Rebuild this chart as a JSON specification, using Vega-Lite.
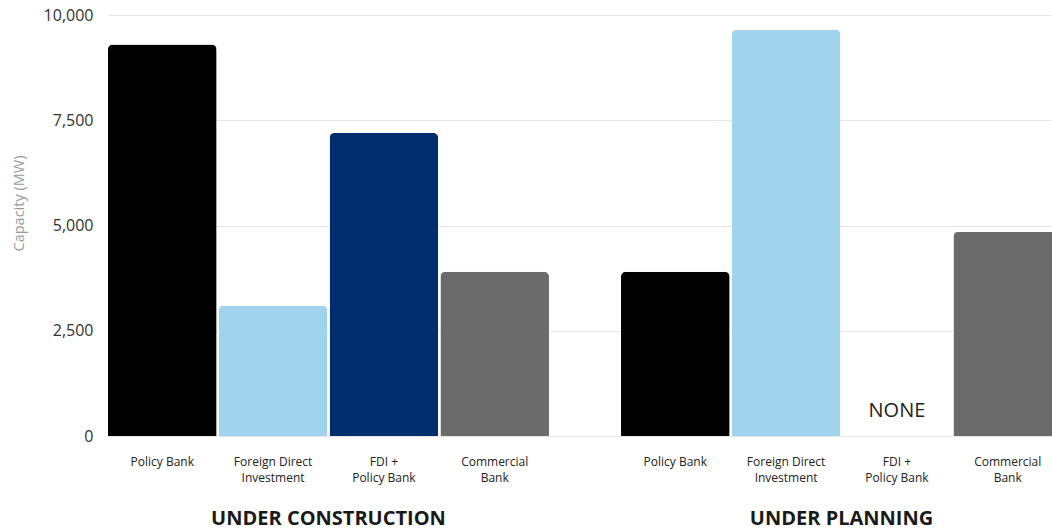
{
  "$schema": "https://vega.github.io/schema/vega-lite/v6.json",
  "width": 944,
  "height": 421,
  "autosize": "none",
  "padding": {"left": 108, "top": 15, "right": 0, "bottom": 95},
  "config": {"view": {"stroke": null}, "font": "Open Sans"},
  "data": {
    "values": [
      {"stage": "UNDER CONSTRUCTION", "type": "Policy Bank", "label": "Policy Bank", "value": 9300, "note": ""},
      {"stage": "UNDER CONSTRUCTION", "type": "Foreign Direct Investment", "label": "Foreign Direct\nInvestment", "value": 3100, "note": ""},
      {"stage": "UNDER CONSTRUCTION", "type": "FDI + Policy Bank", "label": "FDI +\nPolicy Bank", "value": 7200, "note": ""},
      {"stage": "UNDER CONSTRUCTION", "type": "Commercial Bank", "label": "Commercial\nBank", "value": 3900, "note": ""},
      {"stage": "UNDER PLANNING", "type": "Policy Bank", "label": "Policy Bank", "value": 3900, "note": ""},
      {"stage": "UNDER PLANNING", "type": "Foreign Direct Investment", "label": "Foreign Direct\nInvestment", "value": 9650, "note": ""},
      {"stage": "UNDER PLANNING", "type": "FDI + Policy Bank", "label": "FDI +\nPolicy Bank", "value": 0, "note": "NONE"},
      {"stage": "UNDER PLANNING", "type": "Commercial Bank", "label": "Commercial\nBank", "value": 4850, "note": ""}
    ]
  },
  "encoding": {
    "x": {
      "field": "stage",
      "type": "nominal",
      "sort": ["UNDER CONSTRUCTION", "UNDER PLANNING"],
      "scale": {"range": [0, 954], "paddingInner": 0.1404, "paddingOuter": 0},
      "axis": {
        "title": null,
        "domain": false,
        "ticks": false,
        "labelAngle": 0,
        "labelFontSize": 20,
        "labelFontWeight": "bold",
        "labelColor": "#1a1a1a",
        "labelPadding": 72,
        "labelLimit": 0,
        "labelFont": "Open Sans"
      }
    },
    "xOffset": {
      "field": "type",
      "type": "nominal",
      "sort": ["Policy Bank", "Foreign Direct Investment", "FDI + Policy Bank", "Commercial Bank"],
      "scale": {"paddingInner": 0.02, "paddingOuter": 0}
    }
  },
  "layer": [
    {
      "mark": {"type": "bar", "cornerRadiusTopLeft": 5, "cornerRadiusTopRight": 5},
      "encoding": {
        "y": {
          "field": "value",
          "type": "quantitative",
          "scale": {"domain": [0, 10000], "nice": false},
          "axis": {
            "title": "Capacity (MW)",
            "titleColor": "#9a9a9a",
            "titleFontSize": 14.5,
            "titleFontWeight": "normal",
            "titleX": -89,
            "titleY": 188,
            "titleAngle": -90,
            "titleBaseline": "middle",
            "titleAlign": "center",
            "values": [0, 2500, 5000, 7500, 10000],
            "format": ",.0f",
            "labelFontSize": 16,
            "labelColor": "#333333",
            "labelPadding": 15,
            "ticks": false,
            "domain": false,
            "gridColor": "#e6e6e6",
            "gridWidth": 1
          }
        },
        "color": {
          "field": "type",
          "type": "nominal",
          "scale": {
            "domain": ["Policy Bank", "Foreign Direct Investment", "FDI + Policy Bank", "Commercial Bank"],
            "range": ["#000000", "#a1d3ef", "#002d6e", "#6b6b6b"]
          },
          "legend": null
        }
      }
    },
    {
      "mark": {"type": "text", "baseline": "middle", "align": "center", "dy": 26, "fontSize": 12, "lineHeight": 16, "lineBreak": "\n", "color": "#222222"},
      "encoding": {
        "y": {"datum": 0, "type": "quantitative"},
        "text": {"field": "label"}
      }
    },
    {
      "transform": [{"filter": "datum.note != ''"}],
      "mark": {"type": "text", "baseline": "middle", "align": "center", "dy": -25, "fontSize": 20, "color": "#222222"},
      "encoding": {
        "y": {"field": "value", "type": "quantitative"},
        "text": {"field": "note"}
      }
    }
  ]
}
